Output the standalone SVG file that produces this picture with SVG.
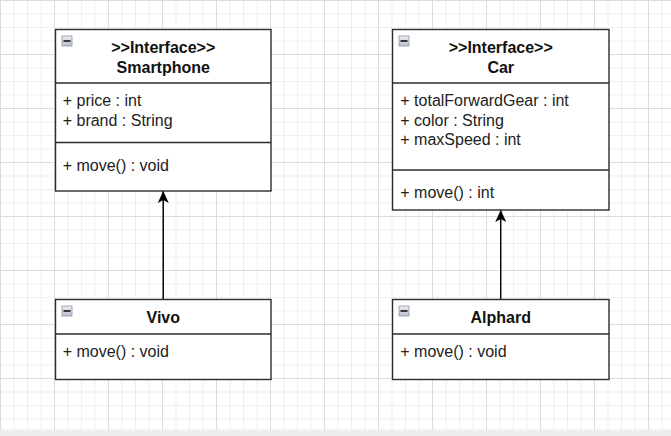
<svg xmlns="http://www.w3.org/2000/svg" width="671" height="436" viewBox="0 0 671 436">
<style>
.box{fill:#ffffff;stroke:#2b2b2b;stroke-width:1.4}
.div{stroke:#2b2b2b;stroke-width:1.4;fill:none}
.hd{font-family:"Liberation Sans",Arial,sans-serif;font-size:16px;font-weight:bold;fill:#111;text-anchor:middle}
.tx{font-family:"Liberation Sans",Arial,sans-serif;font-size:16px;fill:#222}
.edge{stroke:#000;stroke-width:1.4;fill:none}
.ico{fill:url(#icoGrad);stroke:#8e96a8;stroke-width:0.8}
.minus{fill:#111}
</style>
<defs>
<pattern id="grid" width="54" height="54" patternUnits="userSpaceOnUse" x="0" y="0">
<rect x="0" y="0" width="54" height="54" fill="#ffffff"/>
<rect x="13.5" y="0" width="1" height="54" fill="#efefef"/>
<rect x="27" y="0" width="1" height="54" fill="#efefef"/>
<rect x="40.5" y="0" width="1" height="54" fill="#efefef"/>
<rect x="0" y="13.5" width="54" height="1" fill="#efefef"/>
<rect x="0" y="27" width="54" height="1" fill="#efefef"/>
<rect x="0" y="40.5" width="54" height="1" fill="#efefef"/>
<rect x="0" y="0" width="1" height="54" fill="#dcdcdc"/>
<rect x="0" y="0" width="54" height="1" fill="#dcdcdc"/>
</pattern>
<linearGradient id="icoGrad" x1="0" y1="0" x2="0" y2="1">
<stop offset="0" stop-color="#eceef2"/>
<stop offset="1" stop-color="#b8becb"/>
</linearGradient>
<marker id="arrow" viewBox="0 0 14 14" refX="13" refY="7" markerWidth="14" markerHeight="14" markerUnits="userSpaceOnUse" orient="auto">
<path d="M13,7 L1,1.5 L4,7 L1,12.5 Z" fill="#000"/>
</marker>
</defs>
<rect x="0" y="0" width="671" height="430" fill="url(#grid)"/>
<rect x="0" y="429.5" width="671" height="6.5" fill="#eeeeee"/>

<g id="connectors">
<path class="edge" d="M163.25,299.5 L163.25,191" marker-end="url(#arrow)"/>
<path class="edge" d="M500.75,299.5 L500.75,210" marker-end="url(#arrow)"/>
</g>

<g id="smartphone">
<rect class="box" x="55.5" y="29.5" width="215.5" height="161.5"/>
<line class="div" x1="55.5" y1="83" x2="271" y2="83"/>
<line class="div" x1="55.5" y1="142.5" x2="271" y2="142.5"/>
<rect class="ico" x="62" y="36" width="10" height="10"/>
<rect class="minus" x="63.5" y="40.2" width="7" height="1.6"/>
<text class="hd" x="163.25" y="53.3">&gt;&gt;Interface&gt;&gt;</text>
<text class="hd" x="163.25" y="72.5">Smartphone</text>
<text class="tx" x="62.7" y="106.4">+ price : int</text>
<text class="tx" x="62.7" y="125.7">+ brand : String</text>
<text class="tx" x="62.7" y="171">+ move() : void</text>
</g>

<g id="car">
<rect class="box" x="392.5" y="29.5" width="216.5" height="180.5"/>
<line class="div" x1="392.5" y1="83" x2="609" y2="83"/>
<line class="div" x1="392.5" y1="170" x2="609" y2="170"/>
<rect class="ico" x="399" y="36" width="10" height="10"/>
<rect class="minus" x="400.5" y="40.2" width="7" height="1.6"/>
<text class="hd" x="500.75" y="53.3">&gt;&gt;Interface&gt;&gt;</text>
<text class="hd" x="500.75" y="72.5">Car</text>
<text class="tx" x="400.3" y="106.3">+ totalForwardGear : int</text>
<text class="tx" x="400.3" y="125.5">+ color : String</text>
<text class="tx" x="400.3" y="144.8">+ maxSpeed : int</text>
<text class="tx" x="400.3" y="198.3">+ move() : int</text>
</g>

<g id="vivo">
<rect class="box" x="55.5" y="299.5" width="215.5" height="80"/>
<line class="div" x1="55.5" y1="334" x2="271" y2="334"/>
<rect class="ico" x="62" y="306" width="10" height="10"/>
<rect class="minus" x="63.5" y="310.2" width="7" height="1.6"/>
<text class="hd" x="163.25" y="322.7">Vivo</text>
<text class="tx" x="62.7" y="357.3">+ move() : void</text>
</g>

<g id="alphard">
<rect class="box" x="392.5" y="299.5" width="216.5" height="80"/>
<line class="div" x1="392.5" y1="334" x2="609" y2="334"/>
<rect class="ico" x="399" y="306" width="10" height="10"/>
<rect class="minus" x="400.5" y="310.2" width="7" height="1.6"/>
<text class="hd" x="500.75" y="322.7">Alphard</text>
<text class="tx" x="400.3" y="357.3">+ move() : void</text>
</g>
</svg>
